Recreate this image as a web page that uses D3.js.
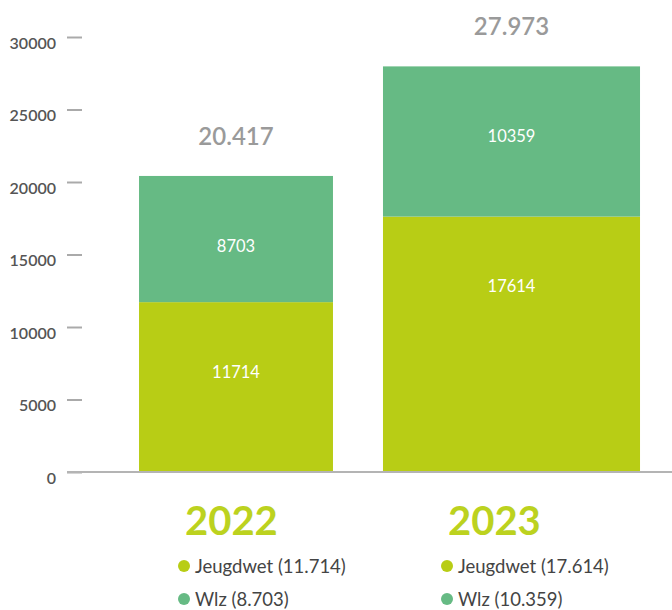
<!DOCTYPE html>
<html>
<head>
<meta charset="utf-8">
<script src="https://cdn.jsdelivr.net/npm/d3@7"></script>
<style>
  body { margin: 0; background: #fff; }
  svg { display: block; font-family: Lato, "Noto Sans", sans-serif; }
</style>
</head>
<body>
<svg id="chart" width="672" height="610"></svg>
<script>
// Data
const years = ["2022", "2023"];
const seriesNames = ["Jeugdwet", "Wlz"];
const jeugdwet = [11714, 17614];
const wlz = [8703, 10359];
const yTicks = [0, 5000, 10000, 15000, 20000, 25000, 30000];

// Styles / layout
const colours = { Jeugdwet: "#b8cd15", Wlz: "#66ba84" };
const barWidthFactor = [0.704, 0.933];
const nl = d3.formatLocale({ decimal: ",", thousands: ".", grouping: [3], currency: ["€", ""] });
const fmt = nl.format(",d");

const svg = d3.select("#chart");

// Build table for stacking
const table = years.map((yr, i) => ({ year: yr, Jeugdwet: jeugdwet[i], Wlz: wlz[i] }));
const stacked = d3.stack().keys(seriesNames)(table);

// Scales
const x = d3.scaleBand()
  .domain(years)
  .range([98.25, 649.25])
  .padding(0);

const y = d3.scaleLinear()
  .domain([0, 30000])
  .range([472, 37]);

const legendX = d3.scaleBand()
  .domain(years)
  .range([184, 710]);

// Y axis
const yAxis = d3.axisLeft(y)
  .tickValues(yTicks)
  .tickSize(15)
  .tickPadding(11)
  .tickFormat(d3.format("d"));

const yAxisG = svg.append("g")
  .attr("transform", "translate(82,0)")
  .call(yAxis);

yAxisG.select(".domain").remove();
yAxisG.selectAll(".tick line")
  .attr("stroke", "#aaa")
  .attr("stroke-width", 2);
yAxisG.selectAll(".tick text")
  .attr("y", 6)
  .attr("fill", "#555")
  .style("font-size", "16px")
  .style("font-weight", 600)
  .style("font-family", "Lato, sans-serif");

// Bars
const barX = (d, i) => x(d.data.year) + x.bandwidth() * (1 - barWidthFactor[i]) / 2;
const barW = (d, i) => x.bandwidth() * barWidthFactor[i];

const layers = svg.append("g").selectAll("g.layer")
  .data(stacked)
  .join("g")
    .attr("class", "layer")
    .attr("fill", d => colours[d.key]);

layers.selectAll("rect")
  .data(d => d)
  .join("rect")
    .attr("x", barX)
    .attr("width", barW)
    .attr("y", d => y(d[1]))
    .attr("height", d => y(d[0]) - y(d[1]));

// Values inside segments
layers.selectAll("text")
  .data(d => d)
  .join("text")
    .attr("x", (d, i) => barX(d, i) + barW(d, i) / 2)
    .attr("y", d => y(d[1]) + 70)
    .attr("dy", "0.35em")
    .attr("text-anchor", "middle")
    .attr("fill", "#fff")
    .style("font-size", "16.5px")
    .text(d => d[1] - d[0]);

// Baseline
svg.append("line")
  .attr("x1", 67)
  .attr("x2", 672)
  .attr("y1", y(0))
  .attr("y2", y(0))
  .attr("stroke", "#b4b4b4")
  .attr("stroke-width", 2);

// Totals above bars
svg.append("g").selectAll("text")
  .data(table)
  .join("text")
    .attr("x", d => x(d.year) + x.bandwidth() / 2)
    .attr("y", d => y(d.Jeugdwet + d.Wlz) - 31)
    .attr("text-anchor", "middle")
    .attr("fill", "#9a9a9a")
    .style("font-size", "24px")
    .style("font-weight", 600)
    .text(d => fmt(d.Jeugdwet + d.Wlz));

// Year labels
svg.append("g").selectAll("text")
  .data(years)
  .join("text")
    .attr("x", d => legendX(d) + 1)
    .attr("y", 535)
    .attr("fill", "#bcd21f")
    .style("font-size", "40px")
    .style("font-weight", 700)
    .text(d => d);

// Legend
const legendRows = [];
years.forEach((yr, i) => {
  legendRows.push({ year: yr, key: "Jeugdwet", value: jeugdwet[i], row: 0 });
  legendRows.push({ year: yr, key: "Wlz", value: wlz[i], row: 1 });
});

const legend = svg.append("g").selectAll("g")
  .data(legendRows)
  .join("g")
    .attr("transform", d => `translate(${legendX(d.year)},${566 + d.row * 33})`);

legend.append("circle")
  .attr("r", 6)
  .attr("fill", d => colours[d.key]);

legend.append("text")
  .attr("x", 11)
  .attr("dy", "0.36em")
  .attr("fill", "#444")
  .style("font-size", "18.5px")
  .text(d => `${d.key} (${fmt(d.value)})`);
</script>
</body>
</html>
